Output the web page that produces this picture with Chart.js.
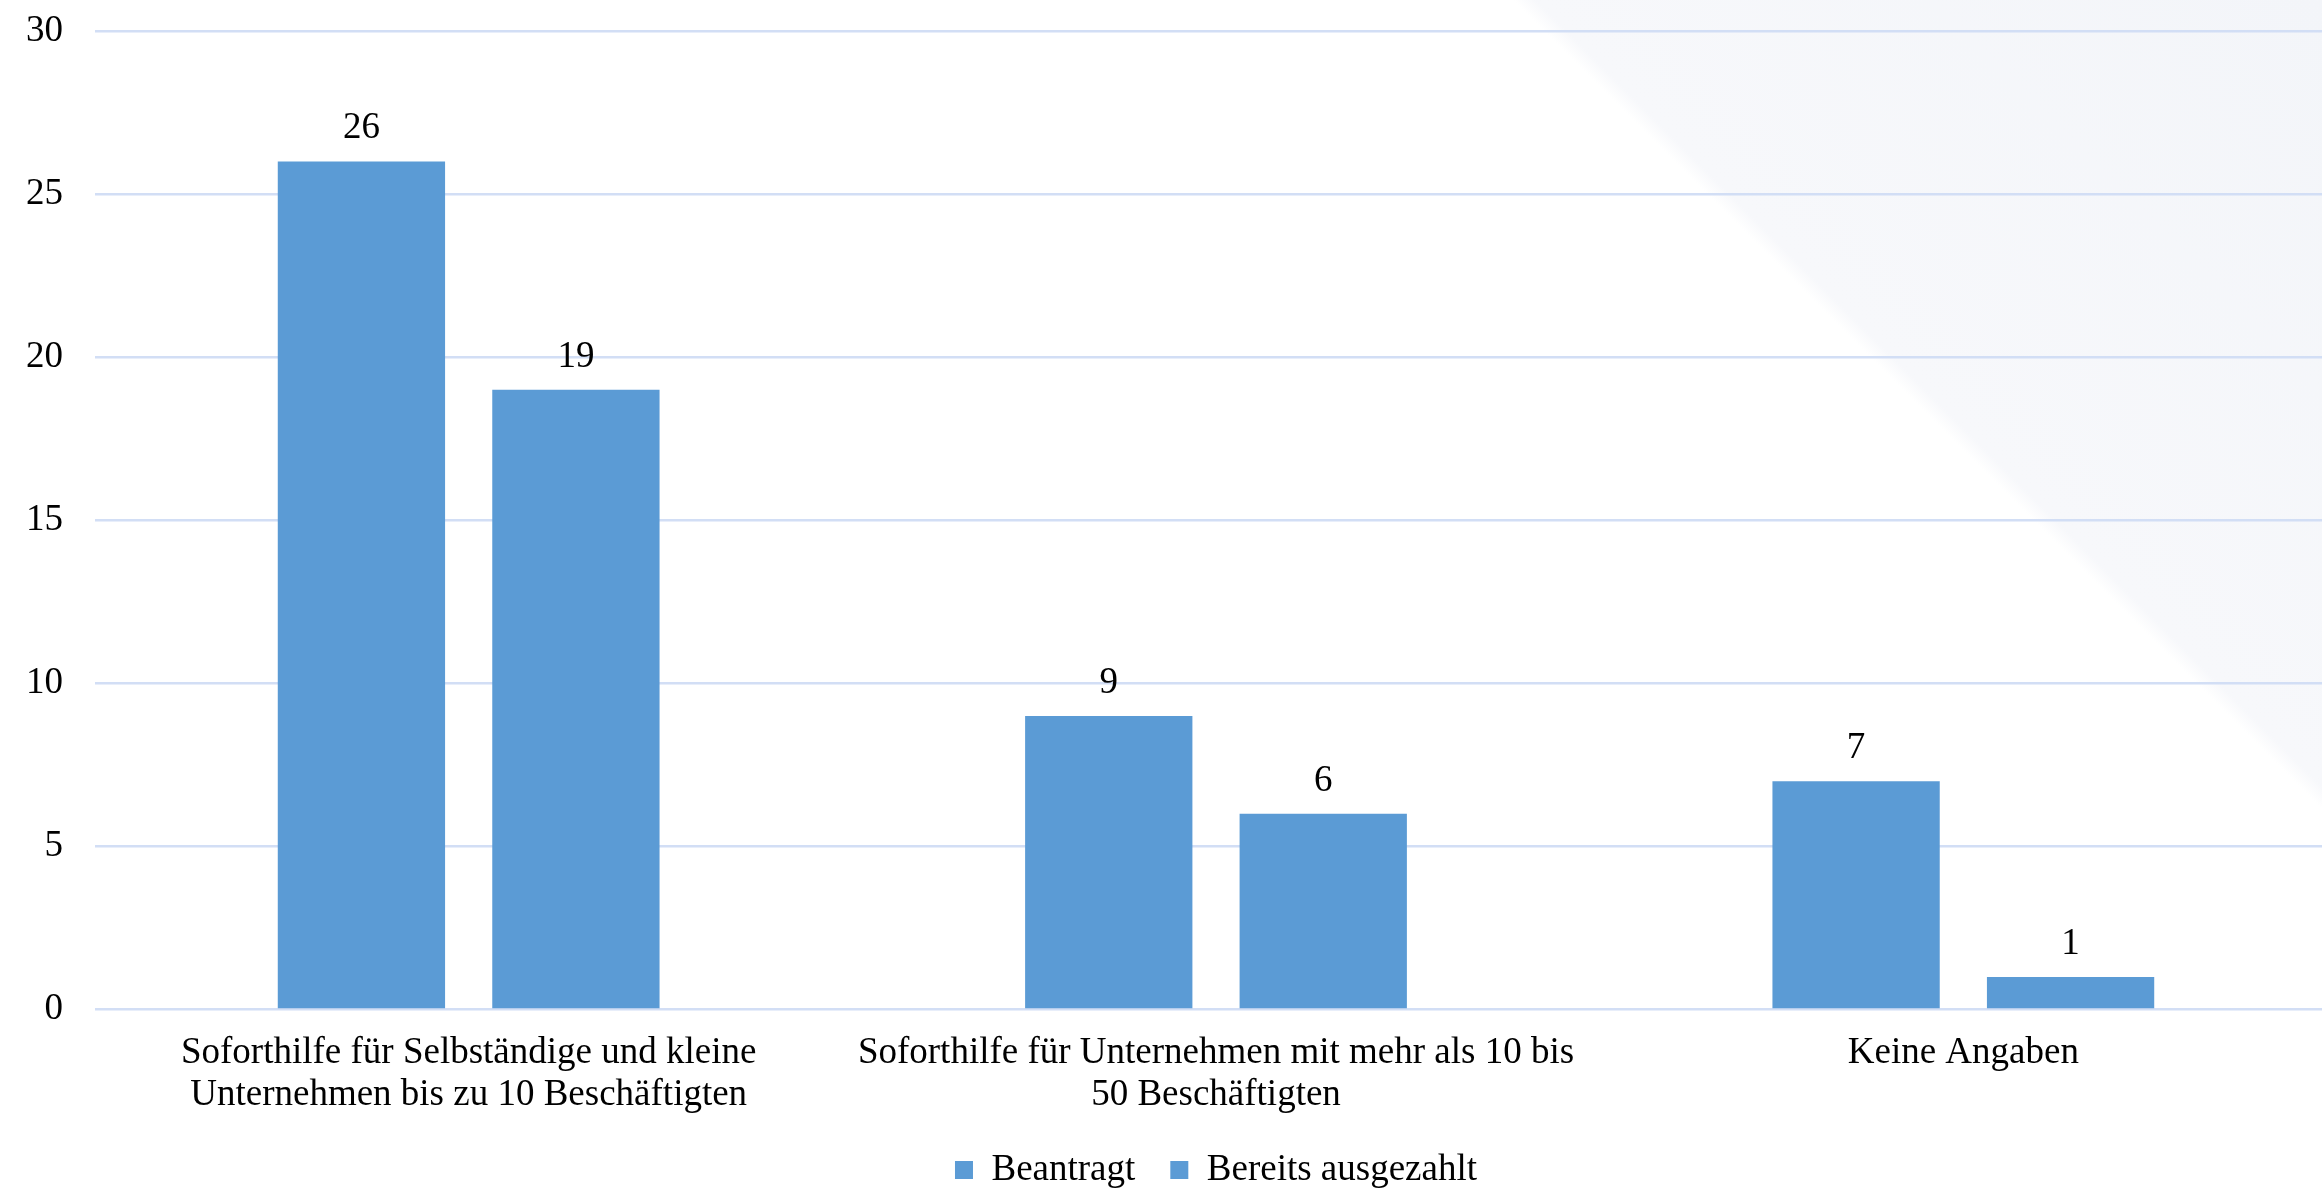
<!DOCTYPE html>
<html><head><meta charset="utf-8">
<script src="https://cdn.jsdelivr.net/npm/chart.js@4.4.1/dist/chart.umd.min.js"></script>
<style>
html,body{margin:0;padding:0;background:#fff;}
#wrap{position:relative;width:2322px;height:1188px;overflow:hidden;background:linear-gradient(45deg,#ffffff 1910px,#f7f8fb 1926px,#f3f5f9 100%);}
canvas{display:block;}
</style></head><body>
<div id="wrap"><canvas id="c" width="2337" height="1188"></canvas></div>
<script>
const categories = [
  ["Soforthilfe für Selbständige und kleine", "Unternehmen bis zu 10 Beschäftigten"],
  ["Soforthilfe für Unternehmen mit mehr als 10 bis", "50 Beschäftigten"],
  ["Keine Angaben"]
];
const seriesNames = ["Beantragt", "Bereits ausgezahlt"];
const beantragt = [26, 9, 7];
const ausgezahlt = [19, 6, 1];
const yTicks = [0, 5, 10, 15, 20, 25, 30];

const BAR = '#5B9BD5';
const GRID = '#D2DEF5';
const FONT = '"Liberation Serif", "Times New Roman", serif';

const valueLabels = {
  id: 'valueLabels',
  afterDatasetsDraw(chart) {
    const ctx = chart.ctx;
    ctx.save();
    ctx.font = '37px ' + FONT;
    ctx.fillStyle = '#000';
    ctx.textAlign = 'center';
    ctx.textBaseline = 'alphabetic';
    chart.data.datasets.forEach((ds, i) => {
      chart.getDatasetMeta(i).data.forEach((bar, j) => {
        ctx.fillText(String(ds.data[j]), bar.x, bar.y - 23);
      });
    });
    ctx.restore();
  }
};

new Chart(document.getElementById('c'), {
  type: 'bar',
  data: {
    labels: categories,
    datasets: [
      { label: seriesNames[0], data: beantragt, backgroundColor: BAR, categoryPercentage: 0.574, barPercentage: 0.78 },
      { label: seriesNames[1], data: ausgezahlt, backgroundColor: BAR, categoryPercentage: 0.574, barPercentage: 0.78 }
    ]
  },
  options: {
    responsive: false,
    animation: false,
    devicePixelRatio: 1,
    layout: { padding: { top: 31, left: 0, right: 0, bottom: -10.5 } },
    font: { family: FONT },
    plugins: {
      tooltip: { enabled: false },
      legend: {
        position: 'bottom',
        fullSize: false,
        labels: {
          boxWidth: 18, boxHeight: 18, padding: 35,
          color: '#000',
          font: { family: FONT, size: 37 }
        }
      }
    },
    scales: {
      x: {
        afterFit: (s) => { s.height = 107; s.paddingLeft = 0; s.paddingRight = 0; },
        grid: { display: false, drawTicks: false },
        border: { display: false },
        ticks: { color: '#000', padding: 23.5, maxRotation: 0, autoSkip: false, font: { family: FONT, size: 37, lineHeight: 1.12 } }
      },
      y: {
        min: 0, max: 30,
        afterBuildTicks: (s) => { s.ticks = yTicks.map(v => ({ value: v })); },
        afterFit: (s) => { s.width = 95; s.paddingTop = 0; s.paddingBottom = 0; },
        grid: { color: GRID, lineWidth: 2.5, drawTicks: false },
        border: { display: false },
        ticks: { color: '#000', padding: 32, font: { family: FONT, size: 37, lineHeight: 1.12 } }
      }
    }
  },
  plugins: [valueLabels]
});
</script>
</body></html>
